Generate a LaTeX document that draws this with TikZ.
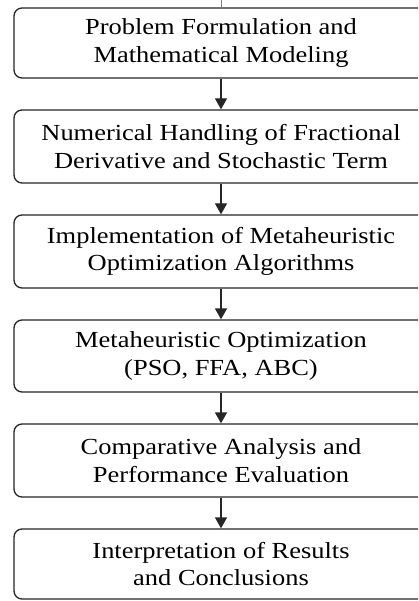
\documentclass[tikz,border=0pt]{standalone}
\usepackage{fontspec}
\setmainfont{Liberation Serif}[FakeStretch=1.15]
\usetikzlibrary{arrows.meta}
\begin{document}
\begin{tikzpicture}[x=1pt,y=-1pt,
  stepbox/.style={draw=black!85,line width=1.3pt,rounded corners=8pt,
    minimum width=414pt,minimum height=72pt,inner sep=0pt,align=center,
    font=\fontsize{23}{27.3}\selectfont},
  flow/.style={draw=black!85,line width=1.3pt,-{Triangle[width=12pt,length=11pt]}}]
\useasboundingbox (0,0) rectangle (418,601);
\clip (0,0) rectangle (418,601);
\fill[white] (0,0) rectangle (418,601);
\node[stepbox,minimum height=70pt] (b1) at (221,43) {Problem Formulation and\\ Mathematical Modeling};
\node[stepbox,minimum height=73pt] (b2) at (221,146.5) {Numerical Handling of Fractional\\Derivative and Stochastic Term};
\node[stepbox,minimum height=73pt] (b3) at (221,251.5) {Implementation of Metaheuristic\\Optimization Algorithms};
\node[stepbox,minimum height=72pt] (b4) at (221,356) {Metaheuristic Optimization\\(PSO, FFA, ABC)};
\node[stepbox,minimum height=73pt] (b5) at (221,460.5) {Comparative Analysis and\\Performance Evaluation};
\node[stepbox,minimum height=70pt] (b6) at (221,564) {Interpretation of Results\\and Conclusions};
\coordinate (t0) at (221,0);
\draw[black!50,line width=0.6pt] (t0) -- (b1.north);
\draw[flow] (b1.south) -- (b2.north);
\draw[flow] (b2.south) -- (b3.north);
\draw[flow] (b3.south) -- (b4.north);
\draw[flow] (b4.south) -- (b5.north);
\draw[flow] (b5.south) -- (b6.north);
\end{tikzpicture}
\end{document}
